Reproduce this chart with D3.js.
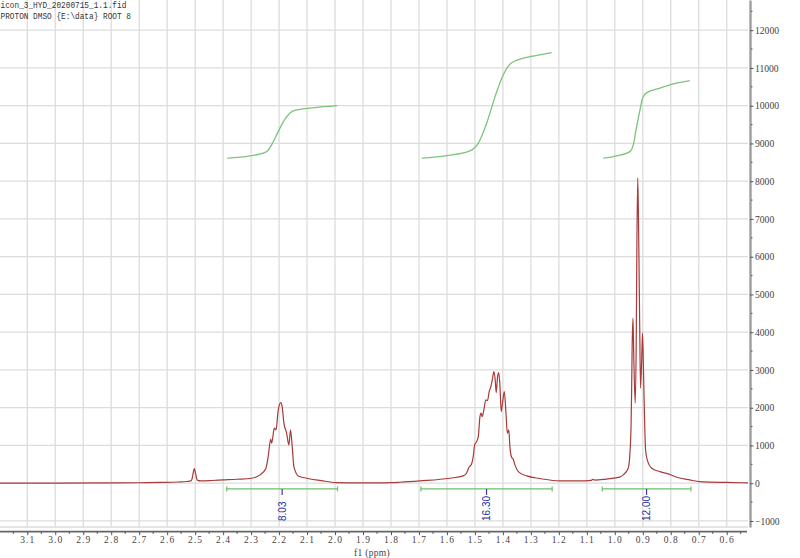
<!DOCTYPE html>
<html>
<head>
<meta charset="utf-8">
<script src="https://cdn.jsdelivr.net/npm/d3@7"></script>
<style>
  html, body { margin: 0; padding: 0; background: #fff; }
  svg { display: block; }
</style>
</head>
<body>
<svg id="chart" width="800" height="558"></svg>
<script>
// ---------- data ----------
const headerLines = ["icon_3_HYD_20200715_1.1.fid", "PROTON DMSO {E:\\data} ROOT 8"];
const xAxisTitle = "f1 (ppm)";

const specPpm = [3.20, 3.00, 2.80, 2.70, 2.62, 2.56, 2.53, 2.515, 2.512, 2.509, 2.503, 2.497, 2.494, 2.491, 2.48, 2.44, 2.40, 2.35,
  2.298, 2.268, 2.247, 2.239, 2.230, 2.2265, 2.217, 2.211, 2.203, 2.194, 2.189, 2.183, 2.173, 2.165, 2.159, 2.153, 2.147,
  2.131, 2.101, 2.05, 1.994, 1.911, 1.85, 1.80, 1.768, 1.697, 1.589, 1.542, 1.530, 1.521, 1.512, 1.506, 1.501, 1.494,
  1.488, 1.482, 1.478, 1.474, 1.468, 1.461, 1.455, 1.449, 1.443, 1.438, 1.432, 1.427, 1.424, 1.419, 1.415, 1.411,
  1.406, 1.400, 1.395, 1.389, 1.384, 1.379, 1.375, 1.369, 1.363, 1.357, 1.345, 1.315, 1.268, 1.196, 1.125, 1.085,
  1.078, 1.072, 1.03, 0.982, 0.970, 0.952, 0.946, 0.942, 0.940, 0.938, 0.935, 0.932, 0.927, 0.923, 0.921, 0.918, 0.915,
  0.911, 0.908, 0.904, 0.901, 0.897, 0.893, 0.890, 0.884, 0.868, 0.839, 0.809, 0.779, 0.732, 0.696, 0.60, 0.52];
const specIntensity = [0, 3, 8, 12, 20, 32, 45, 60, 95, 190, 387, 200, 110, 75, 62, 72, 87, 105,
  132, 220, 397, 705, 1166, 1060, 1457, 1412, 1942, 2135, 2029, 1605, 1325, 1015, 1412, 970, 440,
  193, 132, 70, 16, 10, 10, 15, 26, 61, 132, 193, 265, 424, 511, 705, 1015, 1102,
  1234, 1764, 1854, 1764, 1942, 2207, 2188, 2426, 2559, 2736, 2956, 2691, 2400, 2824, 2930, 2649,
  1897, 2207, 2426, 1854, 1324, 1412, 970, 689, 636, 485, 307, 193, 125, 60, 60, 75,
  100, 80, 110, 160, 220, 397, 795, 1500, 2384, 3619, 4371, 3266, 2119, 4149, 6358, 8080, 6798,
  4149, 2517, 3266, 3974, 2825, 1500, 882, 617, 397, 307, 246, 159, 87, 42, 20, 10];

const integral1Ppm = [2.385, 2.304, 2.244, 2.227, 2.203, 2.179, 2.149, 2.090, 1.992];
const integral1Val = [8609, 8670, 8784, 8962, 9314, 9642, 9862, 9934, 10003];
const integral2Ppm = [1.690, 1.601, 1.518, 1.488, 1.458, 1.428, 1.404, 1.374, 1.327, 1.268, 1.226];
const integral2Val = [8609, 8678, 8803, 9007, 9536, 10241, 10728, 11107, 11258, 11346, 11407];
const integral3Ppm = [1.041, 0.993, 0.946, 0.934, 0.922, 0.910, 0.901, 0.886, 0.839, 0.791, 0.732];
const integral3Val = [8609, 8670, 8784, 8962, 9447, 9889, 10199, 10347, 10464, 10578, 10665];

const integrationFrom = [2.387, 1.693, 1.045];
const integrationTo = [1.991, 1.224, 0.728];
const integrationLabels = ["8.03", "16.30", "12.00"];

const xTickValues = [3.1, 3.0, 2.9, 2.8, 2.7, 2.6, 2.5, 2.4, 2.3, 2.2, 2.1, 2.0, 1.9, 1.8, 1.7, 1.6, 1.5, 1.4, 1.3, 1.2, 1.1, 1.0, 0.9, 0.8, 0.7, 0.6];
const xMinorTicks = [3.15, 3.05, 2.95, 2.85, 2.75, 2.65, 2.55, 2.45, 2.35, 2.25, 2.15, 2.05, 1.95, 1.85, 1.75, 1.65, 1.55, 1.45, 1.35, 1.25, 1.15, 1.05, 0.95, 0.85, 0.75, 0.65, 0.55];
const yTickValues = [-1000, 0, 1000, 2000, 3000, 4000, 5000, 6000, 7000, 8000, 9000, 10000, 11000, 12000];
const yMinorTicks = [-500, 500, 1500, 2500, 3500, 4500, 5500, 6500, 7500, 8500, 9500, 10500, 11500, 12500];

// ---------- layout ----------
const plotLeft = 0, plotRight = 748, plotTop = 0, plotBottom = 527;
const xAxisY = 531.7, yAxisX = 750;

const x = d3.scaleLinear().domain([3.2, 0.52]).range([-0.7, 749.1]);
const y = d3.scaleLinear().domain([-1160, 12800]).range([527, 0]);

const svg = d3.select("#chart");

svg.append("defs").append("clipPath").attr("id", "plotclip")
  .append("rect").attr("x", plotLeft).attr("y", plotTop)
  .attr("width", plotRight - plotLeft).attr("height", plotBottom - plotTop);

// grid
const grid = svg.append("g").attr("stroke", "#dcdcdc").attr("stroke-width", 1.3);
grid.selectAll("line.v").data(xTickValues).join("line")
  .attr("x1", d => x(d)).attr("x2", d => x(d))
  .attr("y1", plotTop).attr("y2", plotBottom);
grid.selectAll("line.h").data(yTickValues).join("line")
  .attr("x1", plotLeft).attr("x2", plotRight)
  .attr("y1", d => y(d)).attr("y2", d => y(d));
grid.append("line").attr("x1", plotLeft).attr("x2", plotRight)
  .attr("y1", plotBottom).attr("y2", plotBottom);

// spectrum
const plot = svg.append("g").attr("clip-path", "url(#plotclip)");
const specData = specPpm.map((p, i) => [p, specIntensity[i]]);
const line = d3.line().x(d => x(d[0])).y(d => y(d[1])).curve(d3.curveMonotoneX);
plot.append("path").datum(specData.slice().reverse())
  .attr("fill", "none").attr("stroke", "#a83a3a").attr("stroke-width", 1.2)
  .attr("d", line);

// integral curves
[[integral1Ppm, integral1Val], [integral2Ppm, integral2Val], [integral3Ppm, integral3Val]].forEach(([ps, vs]) => {
  const dd = ps.map((p, i) => [p, vs[i]]).reverse();
  plot.append("path").datum(dd)
    .attr("fill", "none").attr("stroke", "#7cc47c").attr("stroke-width", 1.3)
    .attr("d", line);
});

// integration bars + labels
const barY = y(0) + 5.7;
integrationFrom.forEach((f, i) => {
  const t = integrationTo[i];
  const g = svg.append("g");
  g.append("line").attr("x1", x(f)).attr("x2", x(t)).attr("y1", barY).attr("y2", barY)
    .attr("stroke", "#6abf6a").attr("stroke-width", 1.2);
  [f, t].forEach(e => g.append("line").attr("x1", x(e)).attr("x2", x(e))
    .attr("y1", barY - 2.5).attr("y2", barY + 2.5).attr("stroke", "#6abf6a").attr("stroke-width", 1.2));
  const cx = x((f + t) / 2);
  g.append("line").attr("x1", cx).attr("x2", cx).attr("y1", barY).attr("y2", barY + 6)
    .attr("stroke", "#3a3aa8").attr("stroke-width", 1.2);
  g.append("text")
    .attr("transform", `translate(${cx + 3.6},${521}) rotate(-90)`)
    .attr("font-family", "Liberation Sans, Arial, sans-serif")
    .attr("font-size", 10).attr("fill", "#2e2e9e")
    .text(integrationLabels[i]);
});

// x axis
const xAxisG = svg.append("g").attr("transform", `translate(0,${xAxisY})`);
xAxisG.append("line").attr("x1", 0).attr("x2", 747).attr("y1", 0).attr("y2", 0)
  .attr("stroke", "#666").attr("stroke-width", 1.8);
const xAxis = d3.axisBottom(x).tickValues(xTickValues).tickSize(3.5).tickSizeOuter(0)
  .tickFormat(d3.format(".1f"));
xAxisG.call(xAxis);
xAxisG.select(".domain").remove();
xAxisG.selectAll(".tick line").attr("stroke", "#555").attr("stroke-width", 1);
xAxisG.selectAll(".tick text").attr("font-family", "Liberation Serif, serif")
  .attr("font-size", 9.5).attr("fill", "#444").attr("letter-spacing", 1.1).attr("dy", "0.55em");
xAxisG.selectAll("line.minor").data(xMinorTicks).join("line").attr("class", "minor")
  .attr("x1", d => x(d)).attr("x2", d => x(d)).attr("y1", 0).attr("y2", 2.2)
  .attr("stroke", "#555").attr("stroke-width", 1);
svg.append("text").attr("x", 372).attr("y", 556).attr("text-anchor", "middle")
  .attr("font-family", "Liberation Serif, serif").attr("font-size", 9.5).attr("fill", "#444")
  .attr("letter-spacing", 0.3)
  .text(xAxisTitle);

// y axis
const yAxisG = svg.append("g").attr("transform", `translate(${yAxisX},0)`);
const yAxis = d3.axisRight(y).tickValues(yTickValues).tickSize(3.5).tickSizeOuter(0).tickPadding(1.5)
  .tickFormat(d3.format("d"));
yAxisG.call(yAxis);
yAxisG.select(".domain").attr("stroke", "#9a9a9a").attr("stroke-width", 2.3);
yAxisG.selectAll(".tick line").attr("stroke", "#555").attr("stroke-width", 1);
yAxisG.selectAll(".tick text").attr("font-family", "Liberation Serif, serif")
  .attr("font-size", 9.6).attr("fill", "#444");
yAxisG.selectAll("line.minor").data(yMinorTicks).join("line").attr("class", "minor")
  .attr("x1", 1).attr("x2", 2.5).attr("y1", d => y(d)).attr("y2", d => y(d))
  .attr("stroke", "#555").attr("stroke-width", 1);

// header
headerLines.forEach((t, i) => {
  svg.append("text").attr("x", 0.5).attr("y", 8.3 + i * 10.6)
    .attr("font-family", "Liberation Mono, monospace").attr("font-size", 9.5).attr("fill", "#333")
    .attr("textLength", t.length * 4.66).attr("lengthAdjust", "spacingAndGlyphs")
    .text(t);
});
</script>
</body>
</html>
